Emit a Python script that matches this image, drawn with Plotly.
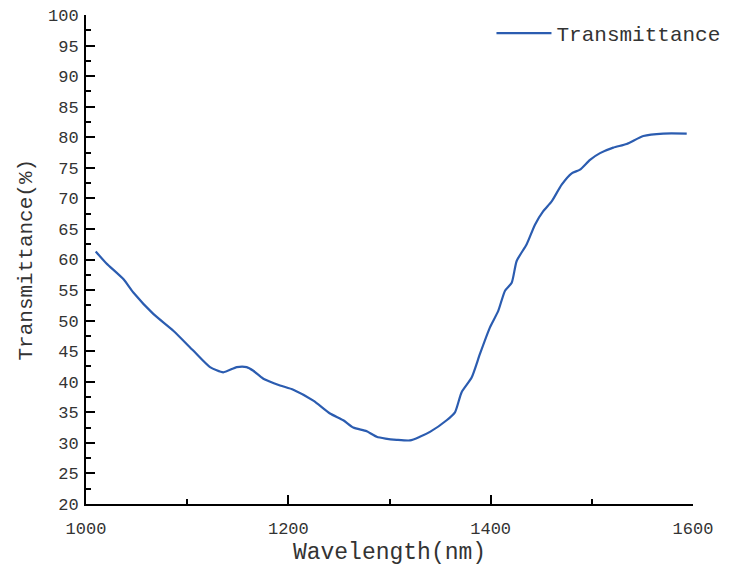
import plotly.graph_objects as go

wavelength = [1009.6, 1020, 1036.9, 1046.8, 1066.5, 1086.3, 1106, 1122.6, 1135.7, 1149, 1158.8,
              1165.4, 1175.3, 1191.8, 1204.9, 1224.7, 1241.2, 1254.3, 1264.2, 1277.4, 1287.3,
              1296, 1307.1, 1320.3, 1330, 1340, 1356.5, 1364.7, 1371.3, 1381.2, 1389.4, 1399.3,
              1407.5, 1414.2, 1420.8, 1425.7, 1435.6, 1443.8, 1452, 1460.3, 1470.2, 1480.1,
              1488.3, 1498.2, 1508.1, 1521.2, 1534.4, 1550.9, 1570.6, 1593.8]
transmittance = [61.3, 59.4, 56.8, 54.6, 51.1, 48.35, 45.1, 42.4, 41.55, 42.4, 42.4,
                 41.8, 40.5, 39.4, 38.7, 36.9, 34.8, 33.7, 32.5, 31.9, 31.0,
                 30.7, 30.5, 30.4, 31.0, 31.8, 33.7, 35.0, 38.3, 40.7, 44.55, 48.9,
                 51.6, 54.9, 56.2, 59.75, 62.5, 65.7, 67.9, 69.5, 72.25, 74.1,
                 74.7, 76.3, 77.4, 78.3, 78.9, 80.2, 80.6, 80.6]

font_family = "Liberation Mono, DejaVu Sans Mono, monospace"
fig = go.Figure()
fig.add_trace(go.Scatter(x=wavelength, y=transmittance, mode="lines", name="Transmittance",
                         line=dict(color="#2b5cb0", width=2.2, shape="spline", smoothing=0.6)))

fig.update_layout(
    width=744, height=572,
    margin=dict(l=78, r=59, t=5, b=76),
    plot_bgcolor="white", paper_bgcolor="white",
    font=dict(family=font_family, size=17, color="#333"),
    showlegend=True,
    legend=dict(x=0.668, y=1.004, xanchor="left", yanchor="top", itemwidth=55,
                bgcolor="rgba(0,0,0,0)", font=dict(size=21, family=font_family)),
    annotations=[dict(text="Transmittance(%)", xref="paper", yref="paper",
                      x=-0.0988, y=0.5, xanchor="center", yanchor="middle",
                      textangle=-90, showarrow=False,
                      font=dict(size=21, family=font_family, color="#333"))],
)
fig.update_xaxes(range=[1000, 1600], tickvals=[1000, 1200, 1400, 1600], ticks="inside",
                 ticklen=9, tickwidth=2, tickcolor="black", showline=True, linecolor="black",
                 linewidth=2, showgrid=False, zeroline=False, automargin=False,
                 ticklabelstandoff=8, ticklabeloverflow="allow",
                 minor=dict(tickvals=[1100, 1300, 1500], ticks="inside", ticklen=5, tickwidth=2, tickcolor="black"),
                 title=dict(text="Wavelength(nm)", font=dict(size=23), standoff=4))
fig.update_yaxes(range=[20, 100], dtick=5, ticks="inside", ticklen=9, tickwidth=2,
                 tickcolor="black", showline=True, linecolor="black", linewidth=2,
                 showgrid=False, zeroline=False, automargin=False,
                 ticklabeloverflow="allow", ticklabelstandoff=2,
                 minor=dict(dtick=2.5, ticks="inside", ticklen=5, tickwidth=2, tickcolor="black"))

fig.write_html("out.html")
